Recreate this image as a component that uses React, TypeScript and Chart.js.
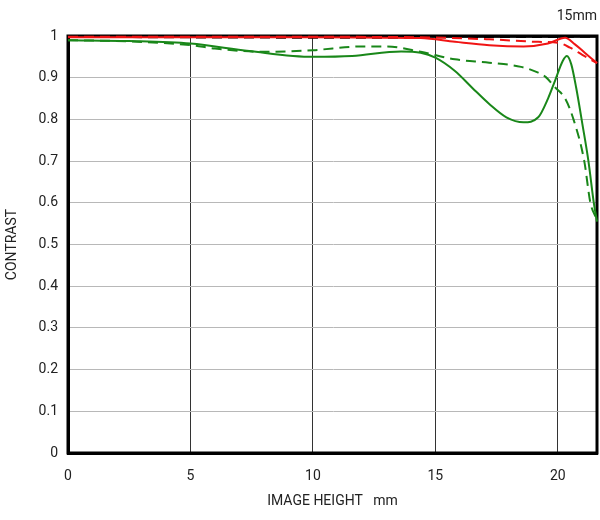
import React, { useEffect, useRef } from "react";
import { Chart, registerables } from "chart.js";

Chart.register(...registerables);

const xTicks = [0, 5, 10, 15, 20];
const yTicks = [0, 0.1, 0.2, 0.3, 0.4, 0.5, 0.6, 0.7, 0.8, 0.9, 1];

const redSolidX = [0, 5, 10, 13, 14.4, 15.8, 17.2, 18.6, 19.6, 20.3, 20.7, 21.1, 21.6];
const redSolidY = [0.997, 0.997, 0.997, 0.996, 0.995, 0.986, 0.978, 0.975, 0.982, 0.996, 0.98, 0.96, 0.935];

const redDashX = [0, 5, 10, 14.4, 17.2, 19.2, 20, 20.5, 21, 21.6];
const redDashY = [0.998, 0.998, 0.998, 0.997, 0.992, 0.986, 0.984, 0.972, 0.955, 0.935];

const greenSolidX = [0, 2.5, 5, 7.4, 10, 11.6, 13.6, 14.4, 15, 15.8, 16.5, 17.2, 17.9, 18.6, 19.2, 19.6, 19.9, 20.2, 20.37, 20.55, 20.75, 21.0, 21.25, 21.47, 21.6];
const greenSolidY = [0.99, 0.988, 0.982, 0.964, 0.95, 0.952, 0.963, 0.96, 0.948, 0.916, 0.876, 0.837, 0.805, 0.793, 0.805, 0.85, 0.895, 0.94, 0.952, 0.932, 0.876, 0.79, 0.7, 0.6, 0.555];

const greenDashX = [0, 2.5, 5, 6, 8, 10, 12, 13, 14.4, 15.8, 17.2, 18.5, 19.2, 19.5, 19.9, 20.3, 20.64, 21.08, 21.33, 21.6];
const greenDashY = [0.99, 0.987, 0.978, 0.97, 0.962, 0.966, 0.975, 0.975, 0.962, 0.944, 0.936, 0.926, 0.912, 0.902, 0.876, 0.85, 0.8, 0.7, 0.6, 0.56];

const blackSolidX = [0, 21.6];
const blackSolidY = [0.998, 0.998];
const blackDashX = [0, 10, 14, 15, 21.6];
const blackDashY = [0.998, 0.996, 0.996, 0.997, 0.998];

const pts = (xs: number[], ys: number[]) => xs.map((x, i) => ({ x, y: ys[i] }));

const RED = "rgb(240,20,20)";
const GREEN = "rgb(25,135,25)";
const FONT = "Roboto";

export default function App() {
  const ref = useRef<HTMLCanvasElement | null>(null);

  useEffect(() => {
    if (!ref.current) return;
    const frame = {
      id: "frame",
      beforeDatasetsDraw(chart: any) {
        const { ctx, chartArea: a } = chart;
        ctx.save();
        ctx.strokeStyle = "#000";
        ctx.lineWidth = 3;
        ctx.strokeRect(a.left, a.top, a.right - a.left, a.bottom - a.top);
        ctx.restore();
      },
      afterDraw(chart: any) {
        const { ctx, chartArea: a } = chart;
        ctx.save();
        ctx.fillStyle = "#222";
        ctx.font = `14px ${FONT}`;
        ctx.textAlign = "right";
        ctx.textBaseline = "middle";
        ctx.fillText("15mm", a.right, 16);
        ctx.restore();
      },
    };
    const line = (data: any, color: string, dash: number[], order: number) => ({
      data,
      borderColor: color,
      borderWidth: 2,
      borderDash: dash,
      pointRadius: 0,
      cubicInterpolationMode: "monotone",
      fill: false,
      order,
      clip: 6,
    });
    const chart = new Chart(ref.current, {
      type: "line",
      data: {
        datasets: [
          line(pts(redSolidX, redSolidY), RED, [], 0),
          line(pts(redDashX, redDashY), RED, [10, 6], 0),
          line(pts(greenSolidX, greenSolidY), GREEN, [], 1),
          line(pts(greenDashX, greenDashY), GREEN, [10, 6], 1),
          line(pts(blackSolidX, blackSolidY), "#000", [], 2),
          line(pts(blackDashX, blackDashY), "#000", [10, 6], 2),
        ] as any,
      },
      options: {
        animation: false,
        responsive: false,
        maintainAspectRatio: false,
        layout: { padding: { top: 36, right: 3, left: 0, bottom: 10 } },
        plugins: { legend: { display: false }, tooltip: { enabled: false } },
        scales: {
          x: {
            type: "linear",
            min: 0,
            max: 21.6,
            afterBuildTicks: (s: any) => {
              s.ticks = xTicks.map((v) => ({ value: v }));
            },
            afterFit: (s: any) => {
              s.height = 57;
            },
            grid: { color: "#333", lineWidth: 1, drawTicks: false },
            border: { color: "#000", width: 3 },
            ticks: {
              padding: 15,
              color: "#222",
              font: { family: FONT, size: 14 },
            },
            title: {
              display: true,
              text: "IMAGE HEIGHT   mm",
              color: "#222",
              font: { family: FONT, size: 14 },
              padding: { top: 8, bottom: 0 },
            },
          },
          y: {
            type: "linear",
            min: 0,
            max: 1,
            afterBuildTicks: (s: any) => {
              s.ticks = yTicks.map((v) => ({ value: v }));
            },
            afterFit: (s: any) => {
              s.width = 68;
            },
            grid: { color: "#b8b8b8", lineWidth: 1, drawTicks: false },
            border: { color: "#000", width: 3 },
            ticks: {
              padding: 10,
              color: "#222",
              font: { family: FONT, size: 14 },
              callback: (v: any) => String(Math.round(v * 10) / 10),
            },
            title: {
              display: true,
              text: "CONTRAST",
              color: "#222",
              font: { family: FONT, size: 14 },
              padding: { top: 4, bottom: 4 },
            },
          },
        },
      },
      plugins: [frame],
    } as any);
    return () => chart.destroy();
  }, []);

  return (
    <div style={{ position: "fixed", left: 0, top: 0, width: 600, height: 520, background: "#fff" }}>
      <canvas ref={ref} width={600} height={520} style={{ width: 600, height: 520 }} />
    </div>
  );
}
